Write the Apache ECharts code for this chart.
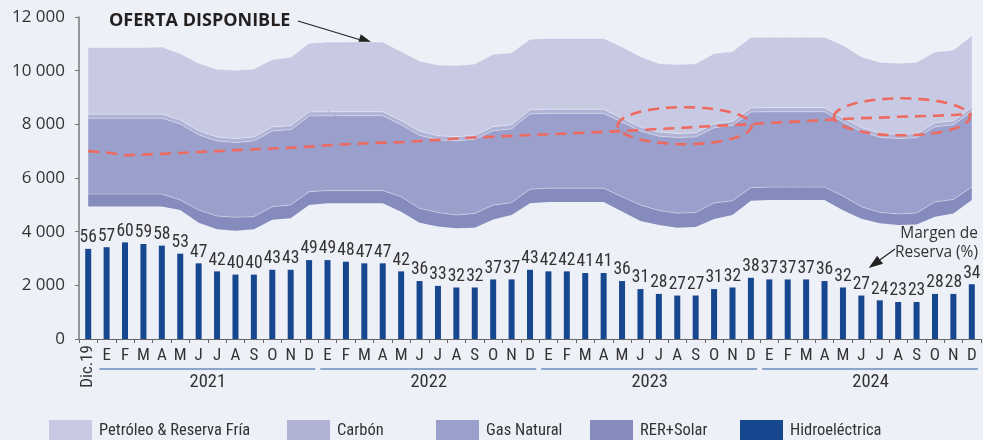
<!DOCTYPE html>
<html>
<head>
<meta charset="utf-8">
<script src="https://cdn.jsdelivr.net/npm/echarts@6/dist/echarts.min.js"></script>
<style>
html,body{margin:0;padding:0;background:#eef0f8;}
#c{width:983px;height:440px;}
</style>
</head>
<body>
<div id="c"></div>
<script>
// ---------------- DATA ----------------
const categories = ['Dic.19',
  'E','F','M','A','M','J','J','A','S','O','N','D',
  'E','F','M','A','M','J','J','A','S','O','N','D',
  'E','F','M','A','M','J','J','A','S','O','N','D',
  'E','F','M','A','M','J','J','A','S','O','N','D'];
const years = ['2021','2022','2023','2024'];
const yTicks = [0, 2000, 4000, 6000, 8000, 10000, 12000];

// Capacity layers (MW), stacked bottom to top
const hidro = [4940,
  4940,4940,4940,4940,4810,4330,4090,4030,4090,4440,4500,4990,
  5060,5060,5060,5060,4740,4330,4190,4130,4150,4450,4620,5060,
  5110,5110,5110,5110,4750,4400,4250,4150,4170,4470,4620,5150,
  5180,5180,5180,5180,4800,4480,4310,4250,4270,4560,4680,5180];
const rerSolar = [460,
  460,460,460,460,370,480,490,510,470,490,490,500,
  470,470,470,470,560,540,520,490,530,540,460,520,
  510,510,510,510,550,590,540,540,540,600,530,490,
  480,480,480,480,530,450,410,410,430,550,520,480];
const gasNatural = [2830,
  2830,2830,2830,2830,2830,2800,2800,2780,2820,2820,2810,2820,
  2790,2790,2790,2790,2680,2720,2710,2770,2760,2770,2750,2810,
  2790,2790,2790,2790,2780,2760,2770,2820,2820,2800,2810,2820,
  2810,2810,2810,2810,2760,2800,2800,2810,2800,2800,2780,2820];
const carbon = [150,
  150,150,150,150,150,150,150,150,150,150,150,150,
  150,150,150,150,150,150,150,150,150,150,150,150,
  150,150,150,150,150,150,150,150,150,150,150,150,
  150,150,150,150,150,150,150,150,150,150,150,150];
const petroleo = [2480,
  2480,2480,2480,2500,2480,2520,2520,2545,2530,2520,2550,2560,
  2600,2600,2600,2600,2580,2620,2640,2650,2660,2700,2690,2630,
  2640,2640,2640,2640,2660,2620,2560,2570,2580,2620,2600,2640,
  2630,2630,2630,2630,2710,2640,2640,2660,2660,2640,2640,2670];
// Máxima demanda (MW)
const maxDemanda = [7000,
  6950,6850,6870,6900,6930,6970,7000,7040,7070,7100,7130,7170,
  7220,7260,7290,7320,7335,7380,7420,7470,7510,7540,7570,7600,
  7630,7660,7690,7720,7750,7790,7830,7860,7900,7940,7970,8010,
  8050,8090,8120,8160,8200,8230,8250,8280,8300,8320,8350,8380];
// Margen de reserva (%)
const margen = [56,
  57,60,59,58,53,47,42,40,40,43,43,49,
  49,48,47,47,42,36,33,32,32,37,37,43,
  42,42,41,41,36,31,28,27,27,31,32,38,
  37,37,37,36,32,27,24,23,23,28,28,34];

const legendNames = ['Petróleo & Reserva Fría','Carbón','Gas Natural','RER+Solar','Hidroeléctrica'];

// ---------------- STYLE ----------------
const NARROW = "'Roboto Condensed','DejaVu Sans Condensed',sans-serif";
const REG = "'Open Sans',sans-serif";
const TXT = '#333333';
const C = {
  pet:'#c8cae4', car:'#b0b3d6', gas:'#9aa0cb', rer:'#858cbd', hid:'#17478f', dem:'#ee6a60'
};

const chart = echarts.init(document.getElementById('c'), null, {renderer:'canvas', width:983, height:440});

function areaSeries(name, data, color){
  return {
    name, type:'line', stack:'oferta', data, symbol:'none', smooth:false,
    color, itemStyle:{color},
    lineStyle:{width:1, color:'rgba(255,255,255,0.35)'},
    areaStyle:{color, opacity:1}, z:2, silent:true
  };
}

const option = {
  backgroundColor:'#eef0f8',
  animation:false,
  grid:{left:79, right:2, top:17, bottom:101, containLabel:false, outerBoundsMode:'none'},
  legend: legendNames.map((n,i)=>({
    data:[n], left:[49,287,436,590,740][i], top:420, icon:'rect',
    itemWidth:43, itemHeight:22, itemGap:0, selectedMode:false, padding:0,
    textStyle:{fontFamily:NARROW, fontWeight:'normal', fontSize:16.5, color:TXT, padding:[0,0,0,2]}
  })),
  xAxis:[{
    type:'category', data:categories, boundaryGap:true,
    axisLine:{show:true, lineStyle:{color:'#666', width:1}},
    axisTick:{show:true, length:4, lineStyle:{color:'#666'}},
    axisLabel:{interval:0, margin:8, fontFamily:NARROW, fontWeight:'normal', fontSize:17, color:TXT,
      formatter:(v,i)=> i===0 ? '' : v}
  },{
    type:'category', data:categories, boundaryGap:true, position:'bottom',
    axisLine:{show:false}, axisTick:{show:false},
    axisLabel:{interval:0, rotate:90, margin:6, fontFamily:NARROW, fontWeight:'normal', fontSize:17, color:TXT,
      formatter:(v,i)=> i===0 ? v : ''}
  }],
  yAxis:[{
    type:'value', min:yTicks[0], max:yTicks[yTicks.length-1], interval:2000,
    axisLine:{show:true, lineStyle:{color:'#777', width:1.5}},
    axisTick:{show:true, length:4, lineStyle:{color:'#777'}},
    splitLine:{show:false},
    axisLabel:{margin:14, fontFamily:REG, fontSize:17, color:TXT,
      formatter:v=>String(v).replace(/\B(?=(\d{3})+(?!\d))/g,' ')}
  },{
    type:'value', min:0, max:200, show:false, splitLine:{show:false}
  }],
  series:[
    {name:'base', type:'line', stack:'oferta', data:hidro, symbol:'none',
      lineStyle:{opacity:0}, areaStyle:{opacity:0}, silent:true, z:1},
    areaSeries('RER+Solar', rerSolar, C.rer),
    areaSeries('Gas Natural', gasNatural, C.gas),
    areaSeries('Carbón', carbon, C.car),
    areaSeries('Petróleo & Reserva Fría', petroleo, C.pet),
    {name:'Máxima demanda', type:'line', data:maxDemanda, symbol:'none', z:5, silent:true,
      lineStyle:{color:C.dem, width:2.6, type:[11,7]}},
    {name:'Hidroeléctrica', type:'bar', yAxisIndex:1, data:margen, barWidth:6,
      color:C.hid, itemStyle:{color:C.hid}, z:3,
      label:{show:true, position:'top', distance:2, fontFamily:NARROW, fontWeight:'normal', fontSize:17.5, color:TXT}}
  ]
};
chart.setOption(option);

// ---------------- ANNOTATIONS ----------------
function px(idx, val){ return chart.convertToPixel({xAxisIndex:0, yAxisIndex:0}, [idx, val]); }
const p0 = px(0,0), p1 = px(1,0);
const step = p1[0]-p0[0];
const axisY = p0[1];
function xAt(f){ return p0[0] + f*step; }
function yAt(v){ return px(0,v)[1]; }

const g = [];
years.forEach((y,k)=>{
  const a = xAt(1+12*k), b = xAt(12+12*k);
  g.push({type:'line', shape:{x1:a-step/2+2, y1:axisY+30, x2:b+step/2-3, y2:axisY+30},
    style:{stroke:'#2a5aa0', lineWidth:1}, silent:true});
  g.push({type:'text', x:(a+b)/2, y:axisY+43, style:{text:y, fontFamily:NARROW, fontSize:18.5,
    fill:TXT, align:'center', verticalAlign:'middle'}, silent:true});
});

function arrow(x1,y1,x2,y2,len,wid){
  const ang = Math.atan2(y2-y1, x2-x1);
  const bx = x2 - len*Math.cos(ang), by = y2 - len*Math.sin(ang);
  const nx = -Math.sin(ang)*wid/2, ny = Math.cos(ang)*wid/2;
  g.push({type:'line', shape:{x1, y1, x2:bx, y2:by}, style:{stroke:'#222', lineWidth:1.2}, silent:true});
  g.push({type:'polygon', shape:{points:[[x2,y2],[bx+nx,by+ny],[bx-nx,by-ny]]}, style:{fill:'#222'}, silent:true});
}

g.push({type:'text', x:109, y:21, style:{text:'OFERTA DISPONIBLE', fontFamily:REG,
  fontWeight:'bold', fontSize:18, fill:'#231f20', verticalAlign:'middle'}, silent:true});
g.push({type:'text', x:109, y:97, style:{text:'MÁXIMA DEMANDA', fontFamily:REG,
  fontWeight:'bold', fontSize:18, fill:'#231f20', verticalAlign:'middle'}, silent:true});
arrow(298,21, xAt(15.5), yAt(11000), 15, 11);
arrow(303,97, xAt(15.7), yAt(7440), 15, 11);

g.push({type:'text', x:978, y:243, style:{text:'Margen de\nReserva (%)', fontFamily:REG,
  fontSize:15.5, lineHeight:19, fill:TXT, align:'right', verticalAlign:'middle'}, silent:true});
arrow(895,249, xAt(42.4), yAt(2650), 14, 10);

[[32.4, 7950, 67, 18.5],[44.2, 8280, 68, 18.5]].forEach(e=>{
  g.push({type:'ellipse', shape:{cx:xAt(e[0]), cy:yAt(e[1]), rx:e[2], ry:e[3]},
    style:{fill:'none', stroke:C.dem, lineWidth:2.6, lineDash:[11,7]}, z:10, silent:true});
});

chart.setOption({graphic:{elements:g}});
</script>
</body>
</html>
